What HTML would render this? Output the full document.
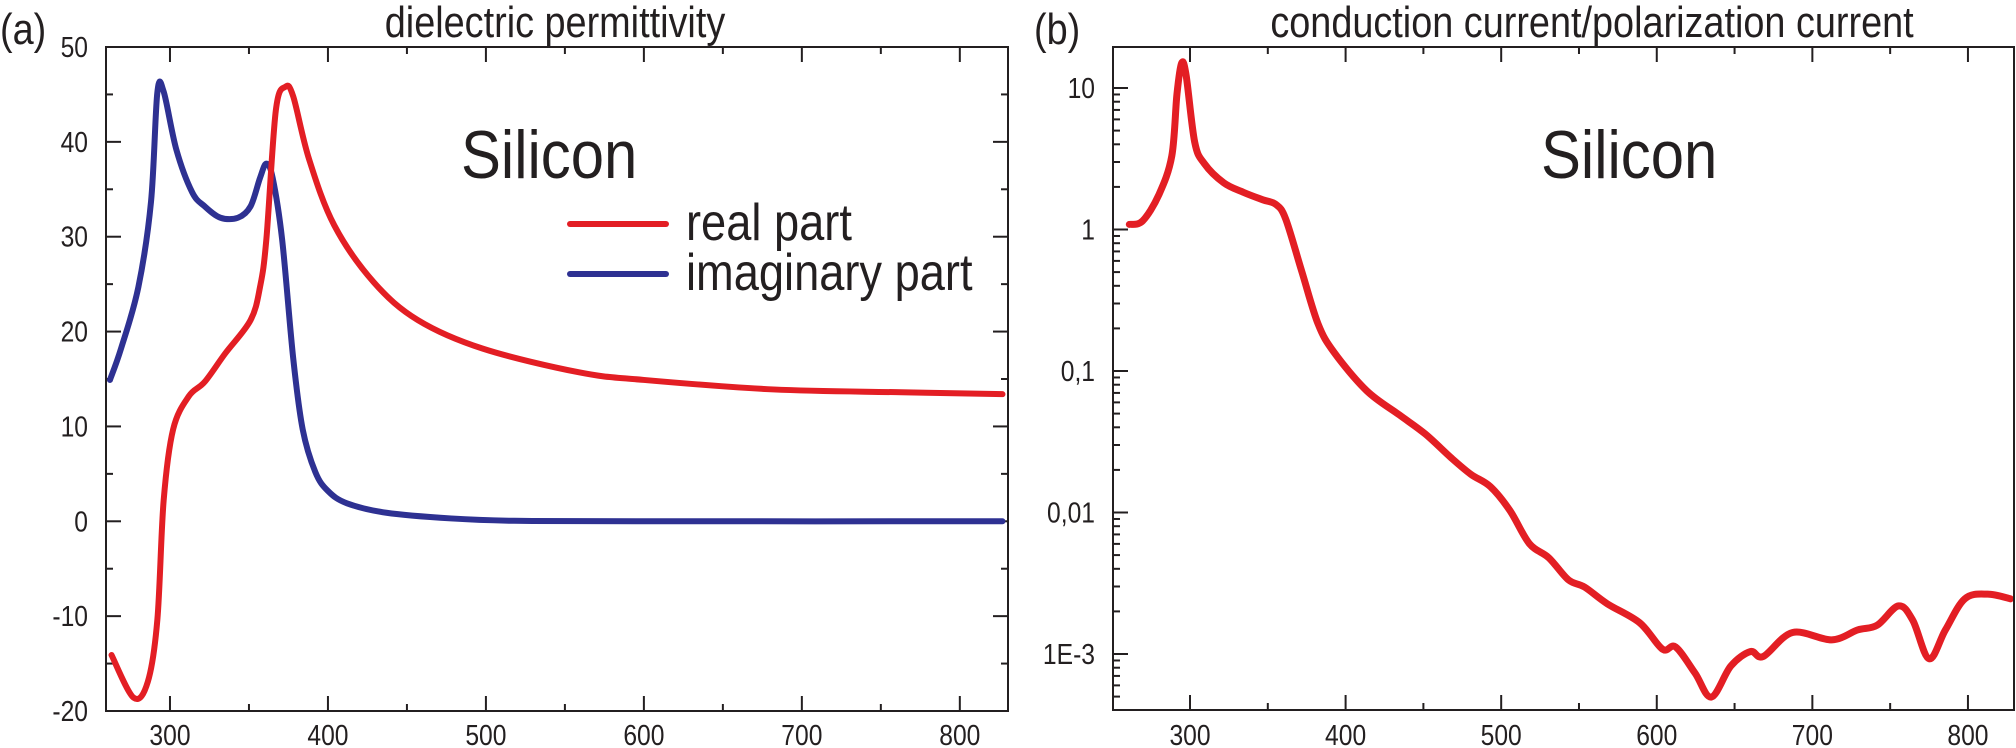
<!DOCTYPE html>
<html><head><meta charset="utf-8"><style>
html,body{margin:0;padding:0;background:#fff}
svg{display:block}
text{font-family:"Liberation Sans",Arial,sans-serif;fill:#231f20}
</style></head><body>
<svg id="chart" width="2016" height="748" viewBox="0 0 2016 748" xmlns="http://www.w3.org/2000/svg">
<g id="pa"></g>
<g id="pb"></g>
</svg>
<script>
// Panel (a) data: wavelength (nm) vs permittivity
const realX = [263,277,286,292,296,302,312,322,335,351,357,361,367,373,378,388,404,429,457,498,559,600,682,763,827];
const realY = [-14.1,-18.6,-16.9,-10.4,2.2,9.7,13.2,14.7,17.7,21.2,24.7,29.7,43.3,45.8,44.8,38.2,31.2,25.2,21.2,18.2,15.7,14.9,13.9,13.6,13.4];
const imagX = [262,269,280,288,292,296,304,314,322,332,343,351,357,361,365,371,378,384,392,400,412,437,478,518,600,827];
const imagY = [14.9,18.2,24.7,33.7,45.2,45.3,39.2,34.7,33.2,32.0,32.0,33.2,36.2,37.7,36.2,29.7,17.2,9.7,5.2,3.2,1.9,0.9,0.3,0.05,0,0];
const aYTicks = [50,40,30,20,10,0,-10,-20];
const aXTicks = [300,400,500,600,700,800];
// Panel (b) data: log10(ratio)
const bX = [261,269.5,280,288.3,291.6,294.6,297.5,303,309.2,321.7,334.3,346.8,355.1,361.4,371.8,382.3,392.7,413.6,434.5,451.2,467.9,480.5,493,505.6,518.1,530.6,543.2,553.6,568.2,589.1,603.7,612.1,624.6,635.1,647.6,660.1,668.5,687.3,712.4,729.1,741.6,755.4,764.6,775,785.5,798,812.7,827.3];
const bLog = [0.036,0.06,0.246,0.52,0.956,1.176,1.09,0.618,0.466,0.33,0.263,0.21,0.178,0.077,-0.295,-0.667,-0.87,-1.14,-1.31,-1.445,-1.614,-1.73,-1.817,-1.986,-2.22,-2.32,-2.476,-2.527,-2.645,-2.78,-2.966,-2.95,-3.135,-3.304,-3.085,-2.983,-3.017,-2.848,-2.9,-2.83,-2.797,-2.66,-2.763,-3.034,-2.83,-2.61,-2.577,-2.61];
const bYTickVals = [1,0,-1,-2,-3];
const bYTickLabels = ["10","1","0,1","0,01","1E-3"];
const bXTicks = [300,400,500,600,700,800];

const NS="http://www.w3.org/2000/svg";
function el(parent,tag,attrs,name){const e=document.createElementNS(NS,tag);for(const k in attrs)e.setAttribute(k,attrs[k]);


parent.appendChild(e);return e;}
function txt(parent,x,y,size,anchor,sx,str,name){
const e=el(parent,'text',{x:0,y:0,'font-size':size,'text-anchor':anchor,transform:'translate('+x+','+y+') scale('+sx+',1)'},name);
e.textContent=str;return e;}
function smooth(pts){let d="M"+pts[0][0]+","+pts[0][1];
for(let i=0;i<pts.length-1;i++){const p0=pts[Math.max(0,i-1)],p1=pts[i],p2=pts[i+1],p3=pts[Math.min(pts.length-1,i+2)];
const t=6;d+=" C"+(p1[0]+(p2[0]-p0[0])/t)+","+(p1[1]+(p2[1]-p0[1])/t)+" "+(p2[0]-(p3[0]-p1[0])/t)+","+(p2[1]-(p3[1]-p1[1])/t)+" "+p2[0]+","+p2[1];}
return d;}

// Panel a
const A={l:106,r:1008,t:47,b:711,x0:259.5,x1:830.5,y0:-20,y1:50};
const ax=v=>A.l+(v-A.x0)/(A.x1-A.x0)*(A.r-A.l);
const ay=v=>A.b-(v-A.y0)/(A.y1-A.y0)*(A.b-A.t);
const pa=document.getElementById('pa');
for(let v=-20;v<=50;v+=5){const maj=v%10===0;const L=maj?15:7;
el(pa,'line',{x1:A.l,x2:A.l+L,y1:ay(v),y2:ay(v),stroke:'#231f20','stroke-width':2},'y-tick');
el(pa,'line',{x1:A.r,x2:A.r-L,y1:ay(v),y2:ay(v),stroke:'#231f20','stroke-width':2},'y-tick-right');}
for(let v=300;v<=800;v+=50){const maj=v%100===0;const L=maj?15:7;
el(pa,'line',{x1:ax(v),x2:ax(v),y1:A.b,y2:A.b-L,stroke:'#231f20','stroke-width':2},'x-tick');
el(pa,'line',{x1:ax(v),x2:ax(v),y1:A.t,y2:A.t+L,stroke:'#231f20','stroke-width':2},'x-tick-top');}
aYTicks.forEach(v=>{txt(pa,88,ay(v)+10,29,'end',0.85,String(v),'y-tick-label');});
aXTicks.forEach(v=>{txt(pa,ax(v),745,29,'middle',0.85,String(v),'x-tick-label');});
el(pa,'path',{d:smooth(imagX.map((x,i)=>[ax(x),ay(imagY[i])])),fill:'none',stroke:'#2e3192','stroke-width':6,'stroke-linecap':'round','stroke-linejoin':'round'},'imaginary-part-line');
el(pa,'path',{d:smooth(realX.map((x,i)=>[ax(x),ay(realY[i])])),fill:'none',stroke:'#e31e24','stroke-width':6,'stroke-linecap':'round','stroke-linejoin':'round'},'real-part-line');
el(pa,'rect',{x:A.l,y:A.t,width:A.r-A.l,height:A.b-A.t,fill:'none',stroke:'#231f20','stroke-width':2},'plot-frame');
txt(pa,555,37,44,'middle',0.86,'dielectric permittivity','chart-title');
txt(pa,0,44,44,'start',0.86,'(a)','panel-label');
txt(pa,461,178,68,'start',0.88,'Silicon','material-label');
el(pa,'line',{x1:570,x2:666,y1:224,y2:224,stroke:'#e31e24','stroke-width':6,'stroke-linecap':'round'},'legend-real-swatch');
txt(pa,686,240,52,'start',0.87,'real part','legend-real-label');
el(pa,'line',{x1:570,x2:666,y1:274,y2:274,stroke:'#2e3192','stroke-width':6,'stroke-linecap':'round'},'legend-imaginary-swatch');
txt(pa,686,290,52,'start',0.87,'imaginary part','legend-imaginary-label');

// Panel b
const B={l:1113,r:2014,t:47,b:710,x0:250.5,x1:829.6};
const bxs=v=>B.l+(v-B.x0)/(B.x1-B.x0)*(B.r-B.l);
const byL=l=>88+(1-l)*141.5;
const pb=document.getElementById('pb');
for(let d=-4;d<=1;d++){for(let m=1;m<=9;m++){const l=d+Math.log10(m);const y=byL(l);if(y<B.t||y>B.b)continue;const L=m===1?15:7;
el(pb,'line',{x1:B.l,x2:B.l+L,y1:y,y2:y,stroke:'#231f20','stroke-width':2},'y-tick');}}
for(let v=300;v<=800;v+=50){const maj=v%100===0;const L=maj?15:7;
el(pb,'line',{x1:bxs(v),x2:bxs(v),y1:B.b,y2:B.b-L,stroke:'#231f20','stroke-width':2},'x-tick');
el(pb,'line',{x1:bxs(v),x2:bxs(v),y1:B.t,y2:B.t+L,stroke:'#231f20','stroke-width':2},'x-tick-top');}
bYTickVals.forEach((v,i)=>{txt(pb,1095,byL(v)+10,29,'end',0.85,bYTickLabels[i],'y-tick-label');});
bXTicks.forEach(v=>{txt(pb,bxs(v),745,29,'middle',0.85,String(v),'x-tick-label');});
el(pb,'path',{d:smooth(bX.map((x,i)=>[bxs(x),byL(bLog[i])])),fill:'none',stroke:'#e31e24','stroke-width':7,'stroke-linecap':'round','stroke-linejoin':'round'},'ratio-line');
el(pb,'rect',{x:B.l,y:B.t,width:B.r-B.l,height:B.b-B.t,fill:'none',stroke:'#231f20','stroke-width':2},'plot-frame');
txt(pb,1592,37,44,'middle',0.86,'conduction current/polarization current','chart-title');
txt(pb,1034,44,44,'start',0.86,'(b)','panel-label');
txt(pb,1541,178,68,'start',0.88,'Silicon','material-label');
</script>
</body></html>
